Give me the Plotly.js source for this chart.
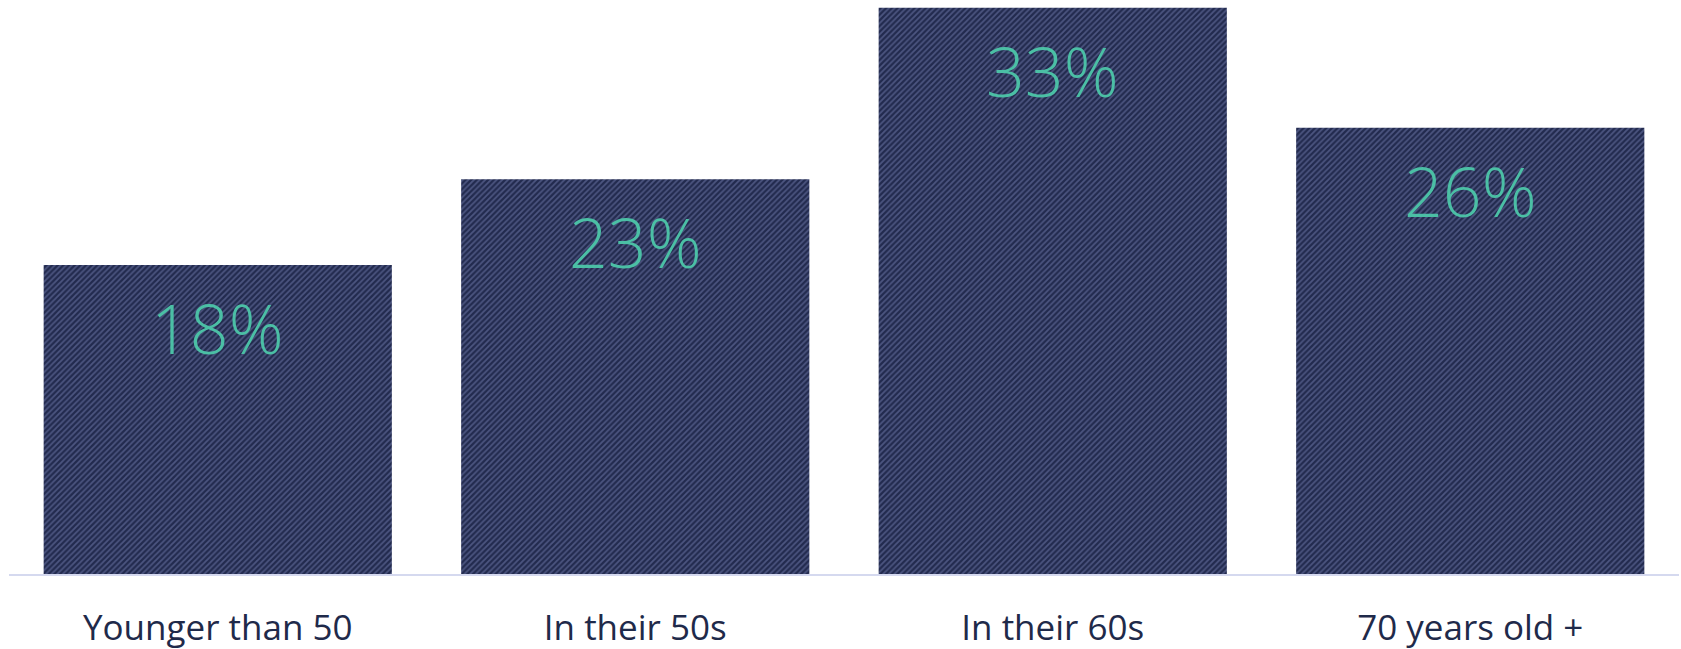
<!DOCTYPE html>
<html>
<head>
<meta charset="utf-8">
<script src="https://cdn.plot.ly/plotly-3.0.1.min.js"></script>
<style>
html,body{margin:0;padding:0;background:#fff;}
#chart{width:1681px;height:649px;}
</style>
</head>
<body>
<div id="chart"></div>
<script>
const categories = ["Younger than 50", "In their 50s", "In their 60s", "70 years old +"];
const values = [18, 23, 33, 26];
const valueLabels = ["18%", "23%", "33%", "26%"];

const trace = {
  type: "bar",
  x: categories,
  y: values,
  marker: {
    color: "#222a4e",
    line: {width: 0},
    pattern: {shape: "/", bgcolor: "#222a4e", fgcolor: "#4c5580", size: 4, solidity: 0.45, fillmode: "replace"}
  },
  hoverinfo: "none"
};

const annotations = categories.map((c, i) => ({
  x: c, y: values[i], xref: "x", yref: "y",
  text: valueLabels[i], showarrow: false,
  yanchor: "top", yshift: -14,
  font: {family: "Open Sans, Lato, sans-serif", size: 68, color: "#4bbfa5", weight: 300}
}));

const layout = {
  width: 1681, height: 649,
  margin: {l: 9, r: 2, t: 0, b: 75},
  paper_bgcolor: "#ffffff", plot_bgcolor: "#ffffff",
  bargap: 0.166,
  showlegend: false,
  xaxis: {
    type: "category",
    range: [-0.5, 3.5],
    showgrid: false, zeroline: false,
    showline: true, linecolor: "#d5d9ef", linewidth: 2,
    ticks: "",
    ticklabelstandoff: 22,
    tickfont: {family: "Open Sans, sans-serif", size: 35, color: "#1f2a4a"}
  },
  yaxis: {
    range: [0, 33.45],
    visible: false, showgrid: false, zeroline: false
  },
  annotations: annotations
};

Plotly.newPlot("chart", [trace], layout, {displayModeBar: false, staticPlot: true});
</script>
</body>
</html>
